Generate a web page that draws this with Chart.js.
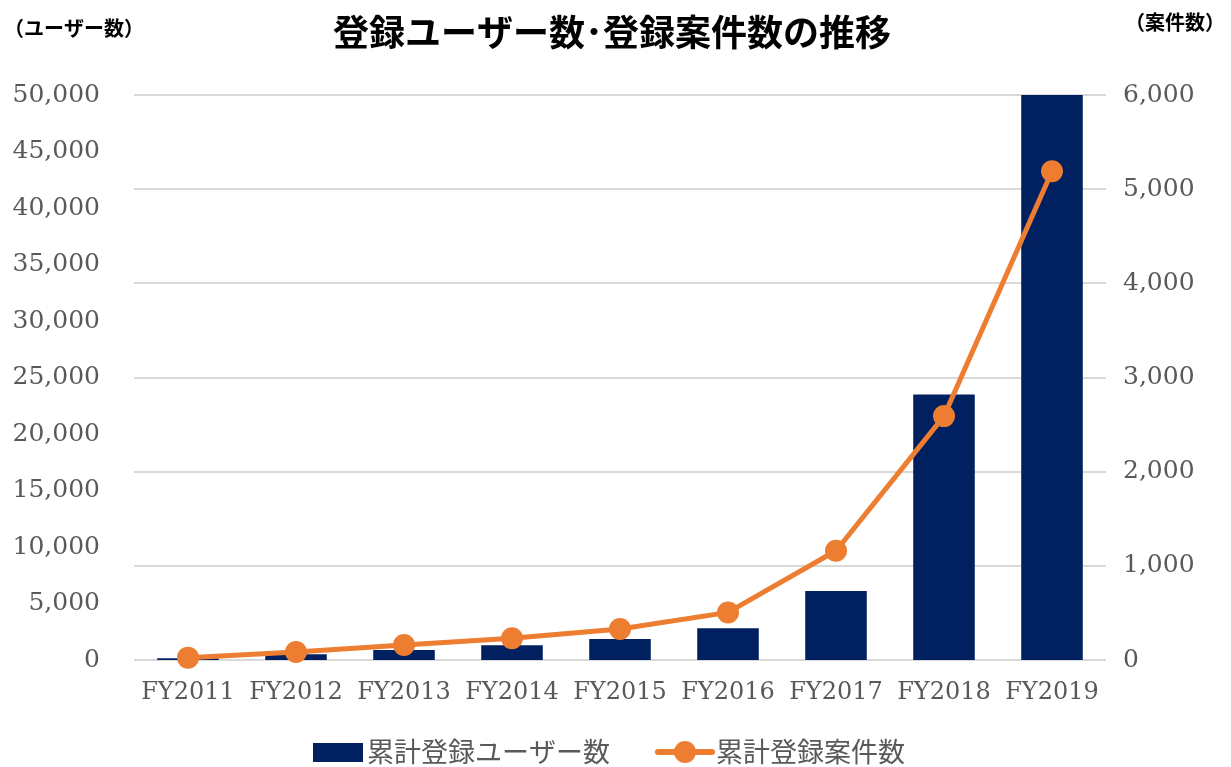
<!DOCTYPE html>
<html>
<head>
<meta charset="utf-8">
<script src="https://cdn.jsdelivr.net/npm/chart.js@4/dist/chart.umd.min.js"></script>
<style>
html,body{margin:0;padding:0;background:#fff;}
#wrap{width:1231px;height:767px;position:relative;}
</style>
</head>
<body>
<div id="wrap"><canvas id="c" width="1231" height="767"></canvas></div>
<script>
const categories = ['FY2011','FY2012','FY2013','FY2014','FY2015','FY2016','FY2017','FY2018','FY2019'];
const users = [150, 500, 880, 1300, 1850, 2800, 6100, 23500, 50000];
const projects = [25, 85, 160, 230, 330, 505, 1160, 2590, 5190];
const titleText = '登録ユーザー数･登録案件数の推移';
const leftAxisTitle = '（ユーザー数）';
const rightAxisTitle = '（案件数）';
const seriesNames = ['累計登録ユーザー数', '累計登録案件数'];

const BLUE = '#002060';
const ORANGE = '#ED7D31';
const GRAY = '#595959';
const SERIF = '"DejaVu Serif", serif';
const CJK = '"Noto Sans CJK JP", sans-serif';

const decor = {
  id: 'decor',
  afterDraw(chart) {
    const ctx = chart.ctx;
    ctx.save();
    ctx.fillStyle = '#000';
    ctx.textBaseline = 'middle';
    ctx.textAlign = 'center';
    ctx.font = 'bold 36px ' + CJK;
    ctx.fillText(titleText, 612, 32);
    ctx.font = 'bold 20px ' + CJK;
    ctx.textAlign = 'left';
    ctx.fillText(leftAxisTitle, 4, 28);
    ctx.fillText(rightAxisTitle, 1125, 22);
    // legend
    const ly = 752;
    ctx.fillStyle = BLUE;
    ctx.fillRect(313, 743, 50, 19);
    ctx.fillStyle = GRAY;
    ctx.font = '27px ' + CJK;
    ctx.textAlign = 'left';
    ctx.fillText(seriesNames[0], 367, ly);
    ctx.strokeStyle = ORANGE;
    ctx.lineWidth = 6;
    ctx.lineCap = 'round';
    ctx.beginPath(); ctx.moveTo(658, ly); ctx.lineTo(712, ly); ctx.stroke();
    ctx.fillStyle = ORANGE;
    ctx.beginPath(); ctx.arc(685, ly, 11, 0, Math.PI*2); ctx.fill();
    ctx.fillStyle = GRAY;
    ctx.fillText(seriesNames[1], 716, ly);
    ctx.restore();
  }
};

new Chart(document.getElementById('c'), {
  data: {
    labels: categories,
    datasets: [
      {
        type: 'line', label: seriesNames[1], data: projects, yAxisID: 'y2',
        borderColor: ORANGE, backgroundColor: ORANGE, borderWidth: 5,
        pointRadius: 11, pointHoverRadius: 11, pointBackgroundColor: ORANGE, pointBorderWidth: 0,
        tension: 0, clip: false, order: 0
      },
      {
        type: 'bar', label: seriesNames[0], data: users, yAxisID: 'y',
        backgroundColor: BLUE, borderWidth: 0,
        categoryPercentage: 1, barPercentage: 0.57, order: 1
      }
    ]
  },
  options: {
    responsive: false,
    animation: false,
    layout: { padding: { top: 95, left: 0, right: 0, bottom: 0 } },
    plugins: { legend: { display: false }, tooltip: { enabled: false }, title: { display: false } },
    scales: {
      x: {
        grid: { display: false, drawTicks: false },
        border: { display: false },
        ticks: { color: GRAY, font: { family: SERIF, size: 24 }, padding: 18, maxRotation: 0, autoSkip: false },
        afterFit(s) { s.height = 107; }
      },
      y: {
        position: 'left', min: 0, max: 50000,
        grid: { display: false, drawTicks: false },
        border: { display: false },
        ticks: { stepSize: 5000, color: GRAY, font: { family: SERIF, size: 25 }, padding: 34,
          callback: v => v.toLocaleString('en-US') },
        afterFit(s) { s.width = 134; }
      },
      y2: {
        position: 'right', min: 0, max: 6000,
        grid: { display: true, drawTicks: false, color: '#d9d9d9', lineWidth: 2 },
        border: { display: false },
        ticks: { stepSize: 1000, color: GRAY, font: { family: SERIF, size: 25 }, padding: 17,
          callback: v => v.toLocaleString('en-US') },
        afterFit(s) { s.width = 125; }
      }
    }
  },
  plugins: [decor]
});
</script>
</body>
</html>
